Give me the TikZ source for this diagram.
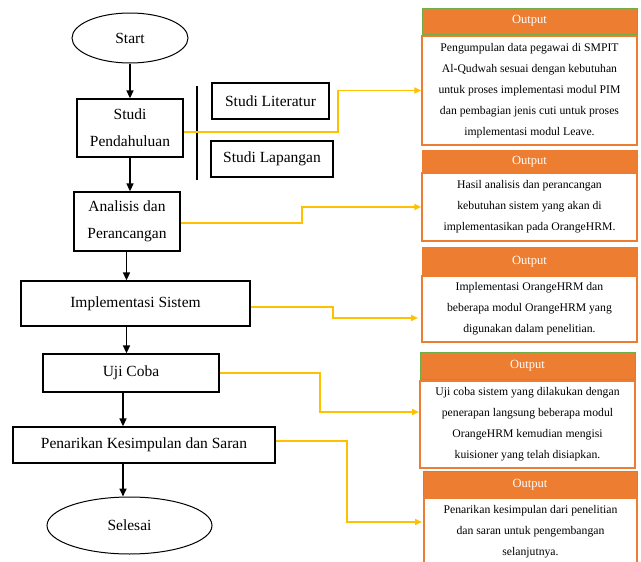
\documentclass[tikz,border=0pt]{standalone}
\usepackage{fontspec}
\setmainfont{Liberation Serif}
\usetikzlibrary{arrows.meta,shapes.geometric}
\definecolor{orng}{HTML}{ED7D31}
\definecolor{grn}{HTML}{70AD47}
\definecolor{yel}{HTML}{FFC000}
\begin{document}
\begin{tikzpicture}[x=1pt,y=-1pt,
  box/.style={draw,line width=1.3pt,rectangle,align=center,inner sep=0pt,font=\fontsize{15.5}{27}\selectfont},
  term/.style={draw,ellipse,line width=1pt,inner sep=0pt,font=\fontsize{15.5}{18}\selectfont},
  flow/.style={-{Triangle[length=8pt,width=7pt]},line width=1.6pt},
  link/.style={draw=yel,line width=1.8pt,-{Triangle[length=7pt,width=6pt]}},
  head/.style={fill=orng,draw=#1,line width=1pt,text=white,inner sep=0pt,font=\fontsize{12.5}{15}\selectfont},
  body/.style={draw=orng,line width=1.5pt,fill=white,align=center,inner sep=0pt,font=\fontsize{11.7}{21}\selectfont}]
\useasboundingbox (0,0) rectangle (641,562);

% main flow
\node[term,minimum width=116pt,minimum height=50pt] (st) at (130,38) {Start};
\node[box,minimum width=106pt,minimum height=58pt] (sp) at (130,128) {Studi\\Pendahuluan};
\node[box,minimum width=117pt,minimum height=36pt] (lit) at (270.5,101) {Studi Literatur};
\node[box,minimum width=122pt,minimum height=36pt] (lap) at (272,159) {Studi Lapangan};
\node[box,minimum width=106pt,minimum height=59pt] (an) at (127,221.5) {Analisis dan\\Perancangan};
\node[box,minimum width=229pt,minimum height=45pt] (im) at (135.5,303.5) {Implementasi Sistem};
\node[box,minimum width=176pt,minimum height=38pt] (uj) at (131,373) {Uji Coba};
\node[box,minimum width=262pt,minimum height=36pt] (pe) at (144,445) {Penarikan Kesimpulan dan Saran};
\node[term,minimum width=165pt,minimum height=57pt] (se) at (129.5,525.5) {Selesai};

\coordinate (v1) at (197,86);
\coordinate (v2) at (197,180);
\draw[line width=1.5pt] (v1) -- (v2);

\coordinate (ca) at (130,0);
\coordinate (cb) at (126.5,0);
\coordinate (cc) at (123,0);
\draw[flow] (ca |- st.south) -- (ca |- sp.north);
\draw[flow] (ca |- sp.south) -- (ca |- an.north);
\draw[flow] (cb |- an.south) -- (cb |- im.north);
\draw[flow] (cb |- im.south) -- (cb |- uj.north);
\draw[flow] (cc |- uj.south) -- (cc |- pe.north);
\draw[flow] (cc |- pe.south) -- (cc |- se.north);

% output boxes
\node[head=grn,minimum width=215pt,minimum height=26pt] (h1) at (529.5,21) {Output};
\node[body,minimum width=215pt,minimum height=109pt] (b1) at (529.5,90.5) {Pengumpulan data pegawai di SMPIT\\Al-Qudwah sesuai dengan kebutuhan\\untuk proses implementasi modul PIM\\dan pembagian jenis cuti untuk proses\\implementasi modul Leave.};

\node[head=orng,minimum width=215pt,minimum height=23pt] (h2) at (529.5,161.5) {Output};
\node[body,minimum width=215pt,minimum height=68pt] (b2) at (529.5,207) {Hasil analisis dan perancangan\\kebutuhan sistem yang akan di\\implementasikan pada OrangeHRM.};

\node[head=orng,minimum width=215pt,minimum height=29pt] (h3) at (529.5,261.5) {Output};
\node[body,minimum width=215pt,minimum height=66pt] (b3) at (529.5,309) {Implementasi OrangeHRM dan\\beberapa modul OrangeHRM yang\\digunakan dalam penelitian.};

\node[head=grn,minimum width=215pt,minimum height=27pt] (h4) at (527.5,365.5) {Output};
\node[body,minimum width=215pt,minimum height=87pt] (b4) at (527.5,424.5) {Uji coba sistem yang dilakukan dengan\\penerapan langsung beberapa modul\\OrangeHRM kemudian mengisi\\kuisioner yang telah disiapkan.};

\node[head=grn,minimum width=214pt,minimum height=27pt] (h5) at (530,484.5) {Output};
\node[body,minimum width=213pt,minimum height=68pt] (b5) at (530.5,532) {Penarikan kesimpulan dari penelitian\\dan saran untuk pengembangan\\selanjutnya.};

% yellow links
\coordinate (k1) at (338,90.5);
\coordinate (k2) at (302,207);
\coordinate (k3) at (333,318);
\coordinate (t3) at (418,318);
\coordinate (k4) at (320,412);
\coordinate (t4) at (419,412);
\coordinate (k5) at (347,522);
\coordinate (t5) at (422,522);
\draw[link] ([yshift=-4pt]sp.east) -| (k1) -- (b1.west);
\draw[link] ([yshift=-1.5pt]an.east) -| (k2) -- (b2.west);
\draw[link] ([yshift=-3.5pt]im.east) -| (k3) -- (t3);
\draw[link] (uj.east) -| (k4) -- (t4);
\draw[link] ([yshift=4pt]pe.east) -| (k5) -- (t5);
\end{tikzpicture}
\end{document}
